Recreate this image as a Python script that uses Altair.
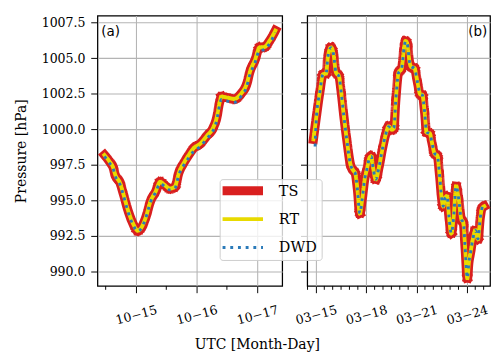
import altair as alt
import pandas as pd

# ---------------- data ----------------
# panel (a): October, x = day of month (fractional, UTC)
a_days = [14.48, 14.57, 14.62, 14.66, 14.74, 14.79, 14.87, 14.95, 15.03, 15.08,
          15.16, 15.24, 15.32, 15.40, 15.47, 15.56, 15.64, 15.71, 15.79, 15.87,
          15.95, 16.06, 16.17, 16.27, 16.33, 16.38, 16.41, 16.49, 16.62, 16.73,
          16.83, 16.88, 16.96, 17.04, 17.12, 17.20, 17.30]
a_ts = [998.2, 997.7, 997.35, 996.8, 996.2, 995.5, 994.3, 993.4, 992.9, 993.05,
        993.8, 994.95, 995.6, 996.3, 996.1, 995.85, 995.97, 996.98, 997.65, 998.2,
        998.67, 999.0, 999.55, 1000.1, 1000.8, 1001.9, 1002.3, 1002.25, 1002.15, 1002.5,
        1003.25, 1004.05, 1004.85, 1005.75, 1005.8, 1006.2, 1006.95]
a_rt = [998.2, 997.7, 997.35, 996.8, 996.2, 995.5, 994.3, 993.4, 992.9, 993.05,
        993.8, 994.95, 995.6, 996.3, 996.1, 995.85, 995.97, 996.98, 997.65, 998.2,
        998.67, 999.0, 999.55, 1000.1, 1000.8, 1001.9, 1002.3, 1002.25, 1002.15, 1002.5,
        1003.25, 1004.05, 1004.85, 1005.75, 1005.8, 1006.2, 1006.95]
a_dwd = [998.1, 997.6, 997.3, 996.7, 996.1, 995.4, 994.2, 993.3, 992.85, 993.0,
         993.75, 994.9, 995.55, 996.2, 996.0, 995.75, 995.85, 996.85, 997.5, 998.0,
         998.45, 998.8, 999.35, 999.9, 1000.6, 1001.7, 1002.1, 1002.0, 1001.9, 1002.3,
         1003.05, 1003.85, 1004.65, 1005.55, 1005.6, 1006.0, 1006.8]

# panel (b): March, x = day of month (fractional, UTC)
b_days = [14.85, 15.04, 15.23, 15.42, 15.61, 15.71, 15.90, 16.05, 16.19, 16.38,
          16.51, 16.66, 16.85, 17.05, 17.24, 17.35, 17.47, 17.62, 17.75, 17.91,
          18.04, 18.20, 18.30, 18.41, 18.57, 18.77, 18.96, 19.15, 19.34, 19.53,
          19.65, 19.76, 19.92, 20.11, 20.26, 20.34, 20.45, 20.58, 20.68, 20.87,
          21.06, 21.21, 21.35, 21.48, 21.60, 21.79, 21.93, 22.06, 22.25, 22.36,
          22.50, 22.59, 22.69, 22.82, 22.94, 23.07, 23.21, 23.36, 23.51, 23.65,
          23.80, 23.89, 24.03, 24.12, 24.22, 24.35, 24.51, 24.66, 24.80, 24.89,
          25.04]
b_ts = [999.3, 1001.0, 1002.6, 1003.85, 1003.95, 1005.05, 1005.75, 1005.3, 1004.05, 1003.7,
        1002.6, 1001.0, 999.2, 997.6, 997.1, 996.9, 995.85, 994.1, 995.0, 996.5,
        997.2, 998.0, 998.1, 997.3, 996.5, 997.4, 998.6, 999.6, 1000.2, 1000.0,
        1000.1, 1002.0, 1003.95, 1004.3, 1005.75, 1006.2, 1006.0, 1004.75, 1004.4, 1004.3,
        1003.3, 1002.5, 1002.4, 1001.25, 999.8, 999.7, 999.0, 998.35, 998.1, 996.95,
        995.15, 994.6, 995.15, 995.3, 993.8, 992.7, 993.8, 996.0, 995.15, 993.8,
        993.35, 991.8, 989.55, 990.65, 991.35, 992.25, 992.9, 992.3, 993.8, 994.4,
        994.6]
b_rt = list(b_ts)
b_dwd_days = [14.95] + b_days[1:-1] + [24.98]
b_dwd = [998.8] + b_ts[1:-1] + [994.8]

SERIES = ["TS", "RT", "DWD"]
COLORS = ["#d91f1f", "#e8da00", "#2a7ab9"]
WIDTHS = [9.5, 4, 3]
DASHES = [[1, 0], [1, 0], [3, 5]]

Y_TICKS = [990.0, 992.5, 995.0, 997.5, 1000.0, 1002.5, 1005.0, 1007.5]
A_MAJOR = [15, 16, 17]
A_MINOR = [14.5, 15.5, 16.5]
B_MAJOR = [15, 18, 21, 24]
B_MINOR = [14.5, 15.5, 16.0, 16.5, 17.0, 17.5, 18.5, 19.0, 19.5, 20.0, 20.5,
           21.5, 22.0, 22.5, 23.0, 23.5, 24.5, 25.0]


def long_df(parts):
    frames = []
    for name, days, vals in parts:
        frames.append(pd.DataFrame({"day": days, "p": vals, "series": name}))
    return pd.concat(frames, ignore_index=True)


df_a = long_df([("TS", a_days, a_ts), ("RT", a_days, a_rt), ("DWD", a_days, a_dwd)])
df_b = long_df([("TS", b_days, b_ts), ("RT", b_days, b_rt), ("DWD", b_dwd_days, b_dwd)])

H = 281
SERIF = "DejaVu Serif"

legend = alt.Legend(
    title=None, orient="none", legendX=127, legendY=170,
    symbolType="M-21,0H21", symbolSize=4, symbolOffset=12, labelOffset=30,
    labelFont=SERIF, labelFontSize=15, labelColor="black",
    fillColor="rgba(255,255,255,0.8)", strokeColor="#cccccc", cornerRadius=3,
    padding=4.5, rowPadding=1.5, gridAlign="all",
)
color_enc = alt.Color("series:N", scale=alt.Scale(domain=SERIES, range=COLORS), legend=legend)
width_enc = alt.StrokeWidth("series:N", scale=alt.Scale(type="ordinal", domain=SERIES, range=WIDTHS), legend=legend)
dash_enc = alt.StrokeDash("series:N", scale=alt.Scale(domain=SERIES, range=DASHES), legend=legend)


def panel(df, domain, major, minor, month, width, tag, left):
    x_axis = alt.Axis(
        values=major, title=None, grid=True, tickSize=7,
        labelExpr=f"'{month}\u2212' + format(datum.value, '02d')",
        labelAngle=345, labelAlign="center", labelBaseline="middle",
        labelPadding=23, labelOverlap=False, labelFlush=False,
    )
    if left:
        y_axis = alt.Axis(values=Y_TICKS, format=".1f", title="Pressure [hPa]",
                          tickSize=7, labelPadding=6, grid=True, titlePadding=13)
    else:
        y_axis = alt.Axis(values=Y_TICKS, labels=False, title=None, tickSize=7, grid=True)
    x = alt.X("day:Q", scale=alt.Scale(domain=domain, nice=False, zero=False), axis=x_axis)
    y = alt.Y("p:Q", scale=alt.Scale(domain=[989.0, 1008.0], nice=False, zero=False), axis=y_axis)

    layers = []
    for s in SERIES:
        cap = "butt" if s == "DWD" else "square"
        layers.append(
            alt.Chart(df).transform_filter(alt.datum.series == s)
            .mark_line(strokeCap=cap, strokeJoin="round", interpolate="monotone")
            .encode(x=x, y=y, color=color_enc, strokeWidth=width_enc, strokeDash=dash_enc)
        )
    minor_ticks = alt.Chart(pd.DataFrame({"day": minor})).mark_rule(color="black", strokeWidth=1).encode(
        x=alt.X("day:Q"), y=alt.value(H), y2=alt.value(H + 4)
    )
    label = alt.Chart(pd.DataFrame({"t": [tag]})).mark_text(
        font="DejaVu Sans", fontSize=14, color="black",
        align="left" if left else "right", baseline="top",
    ).encode(text="t:N", x=alt.value(4 if left else width - 3), y=alt.value(10))
    return alt.layer(*layers, minor_ticks, label).properties(width=width, height=H)


left = panel(df_a, [14.365, 17.413], A_MAJOR, A_MINOR, "10", 192, "(a)", True)
right = panel(df_b, [14.484, 25.384], B_MAJOR, B_MINOR, "03", 190, "(b)", False)

chart = (
    alt.hconcat(left, right, spacing=10)
    .properties(
        title=alt.Title("UTC [Month-Day]", orient="bottom", anchor="middle", font=SERIF,
                        fontSize=14.5, fontWeight="normal", color="black", offset=11, dx=5),
        padding={"left": 5, "top": 0, "right": 0, "bottom": 0},
    )
    .configure_view(stroke="black", strokeWidth=1.3)
    .configure_axis(
        domain=False, tickColor="black", tickWidth=1, labelFont=SERIF, labelFontSize=13,
        labelColor="black", titleFont=SERIF, titleFontSize=14.5, titleFontWeight="normal",
        titleColor="black", gridColor="#b4b4b4", gridWidth=1.1, gridOpacity=1,
    )
)

chart.save("out.html", embed_options={"renderer": "svg", "actions": False})
